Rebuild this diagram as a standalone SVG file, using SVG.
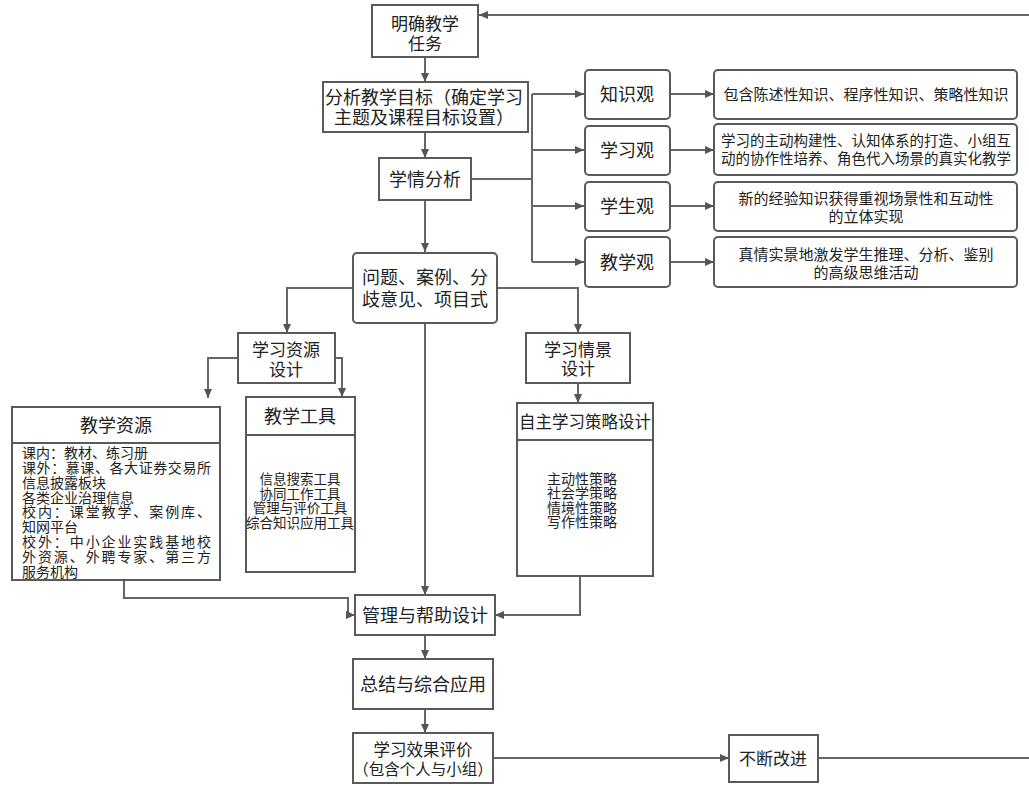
<svg xmlns="http://www.w3.org/2000/svg" width="1029" height="786" viewBox="0 0 1029 786">
<style>
.b{fill:#fff;stroke:#5a5a5a;stroke-width:2}
.c{fill:none;stroke:#666;stroke-width:2}
text{font-family:"Noto Sans CJK SC","Noto Sans",sans-serif;fill:#222;text-anchor:middle}
.t18{font-size:18px}
.t17{font-size:17px}
.t15{font-size:15px}
.t14{font-size:14px}
.tl{text-anchor:start}
</style>
<defs>
<marker id="a" markerWidth="9" markerHeight="8" refX="9" refY="4" orient="auto" markerUnits="userSpaceOnUse">
<path d="M0,0 L9,4 L0,8 z" fill="#555"/>
</marker>
</defs>
<rect width="1029" height="786" fill="#fff"/>
<g id="connectors" class="c" marker-end="url(#a)">
<path d="M818 758 H1040 V15 H479"/>
<path d="M425 57 V82"/>
<path d="M425 132 V158"/>
<path d="M425 200 V252"/>
<path d="M471 179 H532" marker-end="none"/>
<path d="M532 94 V262" marker-end="none"/>
<path d="M532 94 H584"/>
<path d="M532 150 H584"/>
<path d="M532 206 H584"/>
<path d="M532 262 H584"/>
<path d="M670 94 H714"/>
<path d="M670 150 H714"/>
<path d="M670 206 H714"/>
<path d="M670 262 H714"/>
<path d="M353 288 H287 V333"/>
<path d="M497 288 H578 V333"/>
<path d="M425 323 V595"/>
<path d="M238 358 H208 V398"/>
<path d="M335 358 H342 V397"/>
<path d="M578 383 V403"/>
<path d="M124 580 V598 H348 V615 H355"/>
<path d="M580 576 V615 H495"/>
<path d="M425 635 V659"/>
<path d="M425 709 V733"/>
<path d="M493 758 H729"/>
</g>
<g id="n1"><rect class="b" x="372" y="5" width="106" height="52"/><text class="t17"><tspan x="425" y="30">明确教学</tspan><tspan x="425" y="50">任务</tspan></text></g>
<g id="n2"><rect class="b" x="323" y="82" width="205" height="50"/><text class="t18"><tspan x="424" y="104">分析教学目标（确定学习</tspan><tspan x="424" y="124">主题及课程目标设置）</tspan></text></g>
<g id="n3"><rect class="b" x="379" y="158" width="92" height="42"/><text class="t18" x="425" y="186">学情分析</text></g>
<g id="k1"><rect class="b" x="585" y="70" width="85" height="49" rx="4"/><text class="t18" x="627" y="101">知识观</text></g>
<g id="k2"><rect class="b" x="585" y="126" width="85" height="49" rx="4"/><text class="t18" x="627" y="157">学习观</text></g>
<g id="k3"><rect class="b" x="585" y="182" width="85" height="49" rx="4"/><text class="t18" x="627" y="213">学生观</text></g>
<g id="k4"><rect class="b" x="585" y="237" width="85" height="50" rx="4"/><text class="t18" x="627" y="269">教学观</text></g>
<g id="d1"><rect class="b" x="714" y="70" width="303" height="49" rx="4"/><text class="t15" x="866" y="100">包含陈述性知识、程序性知识、策略性知识</text></g>
<g id="d2"><rect class="b" x="714" y="124" width="303" height="51" rx="4"/><text style="font-size:14.5px"><tspan x="866" y="146">学习的主动构建性、认知体系的打造、小组互</tspan><tspan x="866" y="164">动的协作性培养、角色代入场景的真实化教学</tspan></text></g>
<g id="d3"><rect class="b" x="714" y="182" width="303" height="49" rx="4"/><text class="t15"><tspan x="866" y="204">新的经验知识获得重视场景性和互动性</tspan><tspan x="866" y="222">的立体实现</tspan></text></g>
<g id="d4"><rect class="b" x="714" y="237" width="303" height="50" rx="4"/><text class="t15"><tspan x="866" y="260">真情实景地激发学生推理、分析、鉴别</tspan><tspan x="866" y="278">的高级思维活动</tspan></text></g>
<g id="n4"><rect class="b" x="353" y="253" width="144" height="70" rx="4"/><text class="t18"><tspan x="425" y="284">问题、案例、分</tspan><tspan x="425" y="306">歧意见、项目式</tspan></text></g>
<g id="n5"><rect class="b" x="238" y="333" width="97" height="50"/><text class="t17"><tspan x="286" y="356">学习资源</tspan><tspan x="286" y="376">设计</tspan></text></g>
<g id="n6"><rect class="b" x="526" y="333" width="104" height="50"/><text class="t17"><tspan x="578" y="356">学习情景</tspan><tspan x="578" y="375">设计</tspan></text></g>
<g id="n7"><rect class="b" x="12" y="407" width="208" height="173"/><line class="b" x1="12" y1="443" x2="220" y2="443"/><text class="t18" x="116" y="432">教学资源</text>
<text class="t14 tl"><tspan x="22" y="458">课内：教材、练习册</tspan><tspan x="22" y="473" textLength="189" lengthAdjust="spacing">课外：慕课、各大证券交易所</tspan><tspan x="22" y="488">信息披露板块</tspan><tspan x="22" y="503">各类企业治理信息</tspan><tspan x="22" y="517" textLength="189" lengthAdjust="spacing">校内：课堂教学、案例库、</tspan><tspan x="22" y="532">知网平台</tspan><tspan x="22" y="547" textLength="189" lengthAdjust="spacing">校外：中小企业实践基地校</tspan><tspan x="22" y="562" textLength="189" lengthAdjust="spacing">外资源、外聘专家、第三方</tspan><tspan x="22" y="577">服务机构</tspan></text></g>
<g id="n8"><rect class="b" x="246" y="397" width="109" height="175"/><line class="b" x1="246" y1="435" x2="355" y2="435"/><text class="t18" x="300" y="423">教学工具</text>
<text style="font-size:13.5px"><tspan x="300" y="484">信息搜索工具</tspan><tspan x="300" y="499">协同工作工具</tspan><tspan x="300" y="513">管理与评价工具</tspan><tspan x="300" y="528">综合知识应用工具</tspan></text></g>
<g id="n9"><rect class="b" x="517" y="403" width="136" height="173"/><line class="b" x1="517" y1="440" x2="653" y2="440"/><text x="585" y="428" style="font-size:16.5px">自主学习策略设计</text>
<text class="t14"><tspan x="582" y="484">主动性策略</tspan><tspan x="582" y="498">社会学策略</tspan><tspan x="582" y="513">情境性策略</tspan><tspan x="582" y="527">写作性策略</tspan></text></g>
<g id="n10"><rect class="b" x="355" y="595" width="140" height="40"/><text class="t18" x="425" y="622">管理与帮助设计</text></g>
<g id="n11"><rect class="b" x="353" y="659" width="140" height="50"/><text class="t18" x="423" y="691">总结与综合应用</text></g>
<g id="n12"><rect class="b" x="353" y="733" width="140" height="50"/><text><tspan x="423" y="756" style="font-size:16.5px">学习效果评价</tspan><tspan x="423" y="775" style="font-size:15.5px">（包含个人与小组）</tspan></text></g>
<g id="n13"><rect class="b" x="729" y="735" width="89" height="47"/><text class="t17" x="773" y="765">不断改进</text></g>
</svg>
